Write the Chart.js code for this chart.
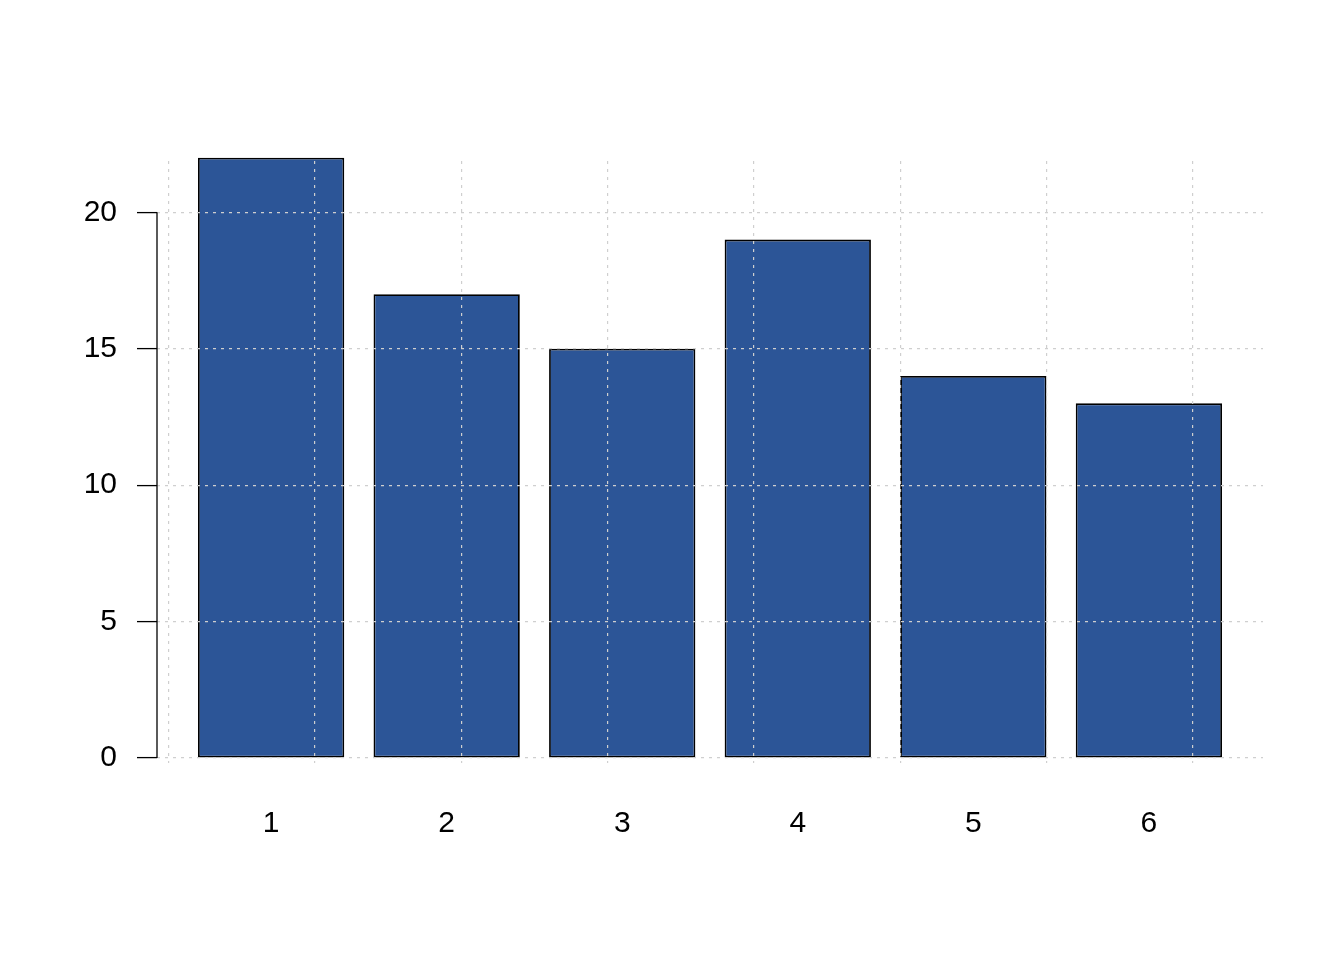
<!DOCTYPE html>
<html>
<head>
<meta charset="utf-8">
<script src="https://cdn.jsdelivr.net/npm/chart.js@4"></script>
<style>
  body { margin: 0; background: #fff; }
</style>
</head>
<body>
<canvas id="chart" width="1344" height="960"></canvas>
<script>
const categories = ["1", "2", "3", "4", "5", "6"];
const counts = [22, 17, 15, 19, 14, 13];
const yTicks = [0, 5, 10, 15, 20];
const xGrid = [0, 1, 2, 3, 4, 5, 6, 7];

// barplot layout: width 1, space 0.2
const barWidth = 1;
const barSpace = 0.2;
const barCenter = (i) => barSpace + i * (barWidth + barSpace) + barWidth / 2;

const gridColor = "#cfcfcf";
const gridDash = [3, 5];
const font = { family: "Liberation Sans", size: 30 };

// R draws the y axis line only from the first to last tick
const yAxisLine = {
  id: "yAxisLine",
  afterDraw(chart) {
    const ctx = chart.ctx;
    const y = chart.scales.y;
    const x = chart.chartArea.left;
    ctx.save();
    ctx.strokeStyle = "#000";
    ctx.lineWidth = 1.3;
    ctx.beginPath();
    ctx.moveTo(x, y.getPixelForValue(yTicks[0]));
    ctx.lineTo(x, y.getPixelForValue(yTicks[yTicks.length - 1]));
    ctx.stroke();
    ctx.restore();
  }
};

const ctx = document.getElementById("chart").getContext("2d");
new Chart(ctx, {
  type: "bar",
  data: {
    datasets: [{
      xAxisID: "xl",
      data: counts.map((v, i) => ({ x: barCenter(i), y: v })),
      backgroundColor: "#2c5597",
      borderColor: "#000",
      borderWidth: 1.8,
      borderSkipped: false,
      barPercentage: barWidth / (barWidth + barSpace),
      categoryPercentage: 1,
      clip: false
    }]
  },
  options: {
    responsive: false,
    animation: false,
    layout: { padding: { top: 161, right: 81, left: 0, bottom: 0 } },
    plugins: { legend: { display: false }, tooltip: { enabled: false } },
    scales: {
      x: {
        type: "linear",
        min: -0.08,
        max: 7.48,
        offset: false,
        afterBuildTicks: (scale) => { scale.ticks = xGrid.map(v => ({ value: v })); },
        afterFit: (scale) => { scale.height = 0; },
        border: { display: false, dash: gridDash },
        grid: { color: gridColor, lineWidth: 1.2, drawTicks: false, offset: false, z: 1 },
        ticks: { display: false }
      },
      xl: {
        type: "linear",
        position: "bottom",
        min: -0.08,
        max: 7.48,
        offset: false,
        afterBuildTicks: (scale) => { scale.ticks = categories.map((c, i) => ({ value: barCenter(i) })); },
        afterFit: (scale) => { scale.height = 197; },
        border: { display: false },
        grid: { display: false, drawTicks: false, offset: false },
        ticks: {
          color: "#000",
          font: font,
          padding: 43,
          maxRotation: 0,
          autoSkip: false,
          callback: (v, i) => categories[i]
        }
      },
      y: {
        type: "linear",
        min: -0.18,
        max: 21.88,
        afterBuildTicks: (scale) => { scale.ticks = yTicks.map(v => ({ value: v })); },
        afterFit: (scale) => { scale.width = 157; },
        border: { display: false, dash: gridDash },
        grid: {
          color: gridColor,
          lineWidth: 1.2,
          z: 1,
          drawTicks: true,
          tickLength: 20,
          tickColor: "#000",
          tickBorderDash: [],
          tickWidth: 1.3
        },
        ticks: {
          color: "#000",
          font: font,
          padding: 20,
          autoSkip: false
        }
      }
    }
  },
  plugins: [yAxisLine]
});
</script>
</body>
</html>
